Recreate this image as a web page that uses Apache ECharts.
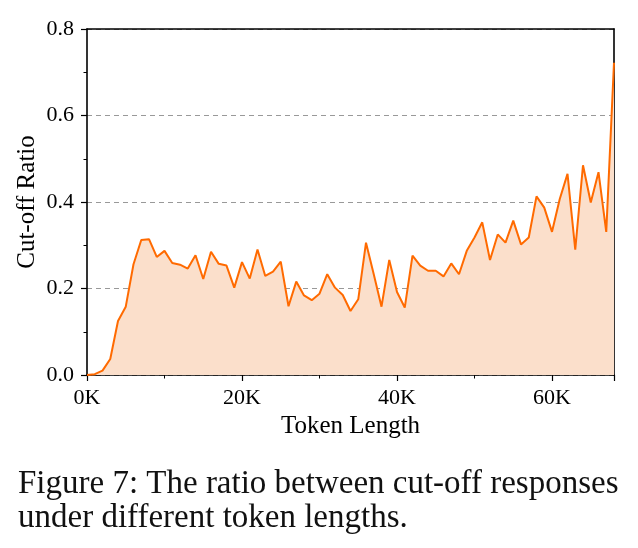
<!DOCTYPE html>
<html>
<head>
<meta charset="utf-8">
<script src="https://cdn.jsdelivr.net/npm/echarts@6/dist/echarts.min.js"></script>
<style>
  html, body { margin: 0; padding: 0; background: #fff; }
  #chart { width: 638px; height: 548px; }
</style>
</head>
<body>
<div id="chart"></div>
<script>
// token length in K
var tokenK = [0, 1, 2, 3, 4, 5, 6, 7, 8, 9, 10, 11, 12, 13, 14, 15, 16, 17, 18, 19,
  20, 21, 22, 23, 24, 25, 26, 27, 28, 29, 30, 31, 32, 33, 34, 35, 36, 37, 38, 39,
  40, 41, 42, 43, 44, 45, 46, 47, 48, 49, 50, 51, 52, 53, 54, 55, 56, 57, 58, 59,
  60, 61, 62, 63, 64, 65, 66, 67, 68];
var cutoffRatio = [0.0, 0.002, 0.01, 0.037, 0.125, 0.158, 0.256, 0.312, 0.314, 0.273,
  0.287, 0.259, 0.255, 0.246, 0.277, 0.222, 0.285, 0.257, 0.253, 0.202,
  0.261, 0.223, 0.290, 0.229, 0.239, 0.262, 0.159, 0.216, 0.184, 0.173,
  0.188, 0.233, 0.202, 0.185, 0.148, 0.175, 0.306, 0.233, 0.158, 0.266,
  0.192, 0.156, 0.276, 0.253, 0.241, 0.241, 0.228, 0.258, 0.233, 0.287,
  0.318, 0.353, 0.266, 0.325, 0.306, 0.357, 0.302, 0.318, 0.413, 0.387,
  0.331, 0.407, 0.465, 0.290, 0.485, 0.399, 0.469, 0.331, 0.722];

var serif = "Liberation Serif";
var dom = document.getElementById("chart");
var myChart = echarts.init(dom, null, { renderer: "canvas" });

var points = tokenK.map(function (k, i) { return [k * 1000, cutoffRatio[i]]; });

var option = {
  animation: false,
  backgroundColor: "#fff",
  grid: { left: 87, right: 24, top: 29, bottom: 173 },
  xAxis: [
    {
      type: "value",
      min: 0,
      max: 68000,
      interval: 20000,
      name: "Token Length",
      nameLocation: "middle",
      nameGap: 36,
      nameTextStyle: { fontFamily: serif, fontSize: 25, color: "#000" },
      axisLine: { show: true, onZero: false, lineStyle: { color: "#000", width: 1.6 } },
      axisTick: { show: true, inside: false, length: 6, lineStyle: { color: "#000", width: 1.2 } },
      minorTick: { show: true, splitNumber: 2, length: 3.5, lineStyle: { color: "#000", width: 1 } },
      axisLabel: {
        fontFamily: serif, fontSize: 22, color: "#000", margin: 12,
        showMaxLabel: false,
        formatter: function (v) { return v / 1000 + "K"; }
      },
      splitLine: { show: false }
    },
    {
      type: "value",
      position: "top",
      min: 0,
      max: 68000,
      axisLine: { show: true, onZero: false, lineStyle: { color: "#000", width: 1.6 } },
      axisTick: { show: false },
      axisLabel: { show: false },
      splitLine: { show: false }
    }
  ],
  yAxis: [
    {
      type: "value",
      min: 0,
      max: 0.8,
      interval: 0.2,
      name: "Cut-off Ratio",
      nameLocation: "middle",
      nameGap: 47,
      nameMoveOverlap: false,
      nameTextStyle: { fontFamily: serif, fontSize: 25, color: "#000" },
      axisLine: { show: true, onZero: false, lineStyle: { color: "#000", width: 1.6 } },
      axisTick: { show: true, inside: false, length: 6, lineStyle: { color: "#000", width: 1.2 } },
      minorTick: { show: true, splitNumber: 2, length: 3.5, lineStyle: { color: "#000", width: 1 } },
      axisLabel: {
        fontFamily: serif, fontSize: 22, color: "#000", margin: 13,
        formatter: function (v) { return v.toFixed(1); }
      },
      splitLine: {
        show: true,
        lineStyle: { color: "#999", type: [5, 4], width: 1 }
      }
    },
    {
      type: "value",
      position: "right",
      min: 0,
      max: 0.8,
      axisLine: { show: true, onZero: false, lineStyle: { color: "#000", width: 1.6 } },
      axisTick: { show: false },
      axisLabel: { show: false },
      splitLine: { show: false }
    }
  ],
  series: [
    {
      type: "line",
      data: points,
      showSymbol: false,
      lineStyle: { color: "#ff6a00", width: 2 },
      areaStyle: { color: "#fbdfcb", opacity: 1 },
      z: 1
    }
  ],
  graphic: [
    {
      type: "text",
      left: 18,
      top: 467,
      style: {
        text: "Figure 7: The ratio between cut-off responses\nunder different token lengths.",
        fontFamily: serif,
        fontSize: 33,
        lineHeight: 34,
        fill: "#111"
      }
    }
  ]
};

myChart.setOption(option);
window.addEventListener("resize", myChart.resize);
</script>
</body>
</html>
